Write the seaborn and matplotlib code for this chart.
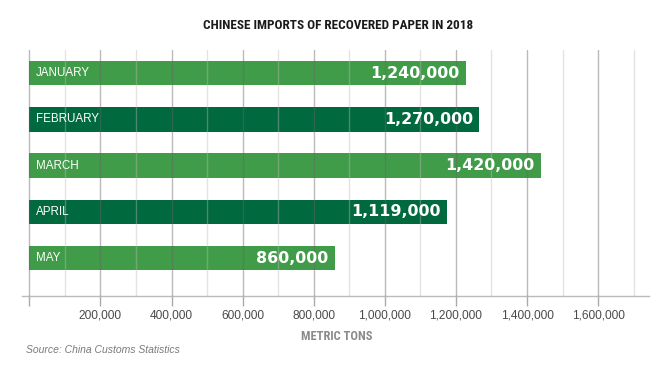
import matplotlib
matplotlib.use("Agg")
import matplotlib.pyplot as plt
from matplotlib import font_manager
from matplotlib.ticker import MultipleLocator, FuncFormatter
import pandas as pd
import seaborn as sns

# data
months = ["JANUARY", "FEBRUARY", "MARCH", "APRIL", "MAY"]
bar_lengths = [1228000, 1266000, 1440000, 1176000, 860000]
value_labels = ["1,240,000", "1,270,000", "1,420,000", "1,119,000", "860,000"]
bar_colors = ["#409c49", "#00693e", "#409c49", "#00693e", "#409c49"]

sns.set_theme(style="white")
plt.rcParams["font.family"] = ["Liberation Sans", "DejaVu Sans"]

# a narrow face for the headline, if one is around
names = {f.name for f in font_manager.fontManager.ttflist}
narrow = [n for n in ["Liberation Sans Narrow", "DejaVu Sans Condensed", "Roboto Condensed"] if n in names]
cond = [f for f in font_manager.fontManager.ttflist
        if f.name == "DejaVu Sans" and "ondensed" in f.fname and f.weight in ("bold", 700)]
if narrow:
    fp = font_manager.FontProperties(family=[narrow[0], "Liberation Sans"], weight="bold")
    head_scale = 1.0
elif cond:
    fp = font_manager.FontProperties(fname=cond[0].fname)
    head_scale = 1.0
else:
    fp = font_manager.FontProperties(family=["Liberation Sans"], weight="bold")
    head_scale = 0.85

df = pd.DataFrame({"month": months, "tons": bar_lengths})

fig = plt.figure(figsize=(6.7, 3.71), dpi=100)
ax = fig.add_axes([0.0324, 0.2022, 0.9367, 0.663])

sns.barplot(data=df, x="tons", y="month", hue="month", palette=bar_colors,
            orient="h", width=0.526, legend=False, saturation=1, ax=ax,
            linewidth=0, zorder=2)

ax.set_xlim(-21400, 1744000)
ax.set_ylim(4.82, -0.50)

# gridlines sit on top of the bars
ax.xaxis.set_major_locator(MultipleLocator(200000))
ax.xaxis.set_minor_locator(MultipleLocator(100000))
ax.grid(True, axis="x", which="major", color="#666666", alpha=0.45, linewidth=1, zorder=3)
ax.grid(True, axis="x", which="minor", color="#bbbbbb", alpha=0.4, linewidth=1, zorder=3)
ax.set_axisbelow(False)

for s in ["top", "right", "left"]:
    ax.spines[s].set_visible(False)
ax.spines["bottom"].set_color("#bbbbbb")
ax.spines["bottom"].set_linewidth(1)

ax.xaxis.set_major_formatter(FuncFormatter(lambda v, p: "" if v == 0 else f"{int(v):,}"))
ax.tick_params(axis="x", which="major", bottom=True, length=7, width=1, color="#aaaaaa",
               pad=3, labelsize=8.6, labelcolor="#4a4a4a")
ax.tick_params(axis="x", which="minor", bottom=False)
ax.set_yticks([])
ax.set_xlabel("")
ax.set_ylabel("")

for i, (m, v, lab) in enumerate(zip(months, bar_lengths, value_labels)):
    ax.text(19000, i, m, color="white", fontsize=8.4, va="center", ha="left", zorder=4)
    ax.text(v - 18000, i, lab, color="white", fontsize=11.4, fontweight="bold",
            family=["DejaVu Sans"], va="center", ha="right", zorder=4)

fig.text(0.505, 0.93, "CHINESE IMPORTS OF RECOVERED PAPER IN 2018", fontproperties=fp,
         fontsize=9.5 * head_scale, color="#1a1a1a", ha="center", va="center")
fig.text(0.503, 0.094, "METRIC TONS", fontproperties=fp,
         fontsize=9 * head_scale, color="#8a8a8a", ha="center", va="center")
fig.text(0.039, 0.057, "Source: China Customs Statistics", style="italic",
         fontsize=7.5, color="#7a7a7a", ha="left", va="center")

fig.savefig("out.png", dpi=100)
